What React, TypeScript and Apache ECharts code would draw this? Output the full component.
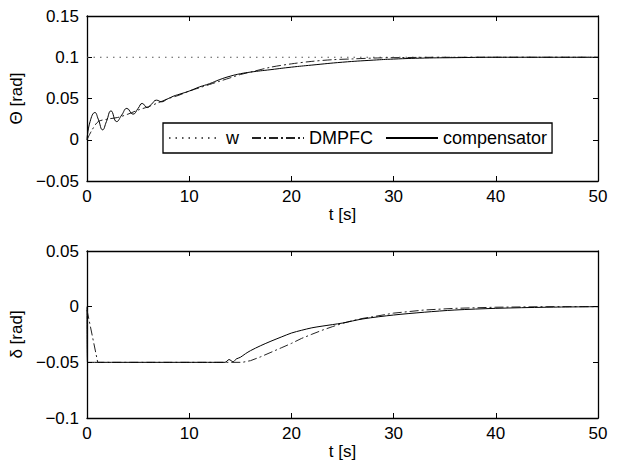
import React, { useEffect, useRef } from "react";
import * as echarts from "echarts";

// ---- Data ----
const xTicks = [0, 10, 20, 30, 40, 50];

// Top panel: Θ [rad]
const wT = [0, 50];
const wV = [0.1, 0.1];

const thDmpfcT = [0, 0.5, 1.1, 2, 3, 4, 5, 6, 7, 8, 9, 10, 11, 12, 13, 14, 15, 16, 18, 20, 22, 24, 26, 28, 30, 35, 40, 50];
const thDmpfcV = [0, 0.012, 0.022, 0.025, 0.027, 0.031, 0.036, 0.040, 0.045, 0.050, 0.054, 0.059, 0.063, 0.067, 0.071, 0.075, 0.079, 0.082, 0.088, 0.092, 0.095, 0.097, 0.098, 0.099, 0.0995, 0.1, 0.1, 0.1];

const thCompT = [0, 0.3, 0.78, 1.1, 1.53, 1.9, 2.35, 2.9, 3.4, 3.9, 4.5, 5.0, 5.4, 5.9, 6.3, 6.8, 7.3, 7.8, 8.5, 9, 10, 11, 12, 13, 14, 15, 16, 18, 20, 22, 25, 28, 30, 33, 36, 40, 45, 50];
const thCompV = [0, 0.022, 0.033, 0.025, 0.012, 0.022, 0.035, 0.022, 0.03, 0.038, 0.031, 0.038, 0.044, 0.039, 0.043, 0.048, 0.046, 0.049, 0.053, 0.055, 0.059, 0.064, 0.068, 0.073, 0.077, 0.080, 0.082, 0.085, 0.088, 0.0905, 0.094, 0.0965, 0.0978, 0.099, 0.0995, 0.1, 0.1, 0.1];

// Bottom panel: δ [rad]
const deDmpfcT = [0, 1.05, 15.2, 16, 17, 18, 19, 20, 21, 22, 23, 24, 25, 26, 27, 28, 30, 33, 36, 40, 45, 50];
const deDmpfcV = [-0.003, -0.05, -0.05, -0.0485, -0.045, -0.041, -0.037, -0.033, -0.0285, -0.0248, -0.0212, -0.018, -0.015, -0.0125, -0.0105, -0.009, -0.0058, -0.003, -0.0015, -0.0005, 0, 0];

const deCompT = [0, 0.05, 13.5, 13.9, 14.3, 14.6, 15, 15.5, 16, 17, 18, 19, 20, 21, 22, 23, 25, 27, 30, 33, 36, 40, 45, 50];
const deCompV = [0, -0.05, -0.05, -0.0475, -0.0495, -0.047, -0.0455, -0.0423, -0.0395, -0.035, -0.031, -0.0273, -0.0237, -0.0212, -0.019, -0.0175, -0.0147, -0.011, -0.0075, -0.005, -0.003, -0.0015, -0.0005, 0];

const topYTicks = [-0.05, 0, 0.05, 0.1, 0.15];
const botYTicks = [-0.1, -0.05, 0, 0.05];

const seriesNames = ["w", "DMPFC", "compensator"];

const zip = (t: number[], v: number[]) => t.map((x, i) => [x, v[i]]);
const fmt = (v: number) => {
  const r = Math.round(v * 1000) / 1000;
  return String(r).replace("-", "\u2212");
};

const FONT = "'Liberation Sans', Arial, Helvetica, sans-serif";

export default function App() {
  const ref = useRef<HTMLDivElement>(null);
  useEffect(() => {
    if (!ref.current) return;
    const chart = echarts.init(ref.current, undefined, { renderer: "svg" });

    const axisLine = { show: true, onZero: false, lineStyle: { color: "#000", width: 1.3 } };
    const tick = { show: true, inside: true, length: 5, lineStyle: { color: "#000", width: 1 } };
    const label = { color: "#000", fontSize: 17, fontFamily: FONT };

    const xMain = (gi: number) => ({
      type: "value",
      gridIndex: gi,
      min: xTicks[0],
      max: xTicks[xTicks.length - 1],
      interval: 10,
      position: "bottom",
      axisLine,
      axisTick: tick,
      axisLabel: { ...label, margin: 7 },
      splitLine: { show: false },
      name: "t [s]",
      nameLocation: "middle",
      nameGap: 21,
      nameTextStyle: { color: "#000", fontSize: 17, fontFamily: FONT },
    });
    const xTop = (gi: number) => ({
      type: "value",
      gridIndex: gi,
      min: xTicks[0],
      max: xTicks[xTicks.length - 1],
      interval: 10,
      position: "top",
      axisLine,
      axisTick: tick,
      axisLabel: { show: false },
      splitLine: { show: false },
    });
    const yMain = (gi: number, ticks: number[], name: string) => ({
      type: "value",
      gridIndex: gi,
      min: ticks[0],
      max: ticks[ticks.length - 1],
      interval: 0.05,
      position: "left",
      axisLine,
      axisTick: tick,
      axisLabel: { ...label, margin: 8, formatter: fmt },
      splitLine: { show: false },
      name,
      nameLocation: "middle",
      nameGap: 58,
      nameTextStyle: { color: "#000", fontSize: 17, fontFamily: FONT },
    });
    const yRight = (gi: number, ticks: number[]) => ({
      type: "value",
      gridIndex: gi,
      min: ticks[0],
      max: ticks[ticks.length - 1],
      interval: 0.05,
      position: "right",
      axisLine,
      axisTick: tick,
      axisLabel: { show: false },
      splitLine: { show: false },
    });

    const wStyle = { color: "#555", width: 1, type: [1.5, 5] };
    const dStyle = { color: "#222", width: 1, type: [9, 3, 2, 3] };
    const cStyle = { color: "#000", width: 1, type: "solid" };

    const line = (name: string, xi: number, yi: number, data: number[][], ls: any, smooth: any = false) => ({
      type: "line",
      name,
      xAxisIndex: xi,
      yAxisIndex: yi,
      data,
      symbol: "none",
      showSymbol: false,
      smooth,
      lineStyle: ls,
      itemStyle: { color: ls.color },
      z: 3,
    });

    chart.setOption({
      animation: false,
      backgroundColor: "#fff",
      textStyle: { fontFamily: FONT },
      grid: [
        { left: 87, top: 16, width: 511, height: 165 },
        { left: 87, top: 251, width: 511, height: 167 },
      ],
      xAxis: [xMain(0), xTop(0), xMain(1), xTop(1)],
      yAxis: [
        yMain(0, topYTicks, "\u0398 [rad]"),
        yRight(0, topYTicks),
        yMain(1, botYTicks, "\u03b4 [rad]"),
        yRight(1, botYTicks),
      ],
      legend: {
        data: seriesNames,
        left: 163,
        top: 123,
        orient: "horizontal",
        itemWidth: 52,
        itemHeight: 14,
        itemGap: 12,
        padding: [6, 5, 6, 5],
        backgroundColor: "#fff",
        borderColor: "#000",
        borderWidth: 1.3,
        borderRadius: 0,
        selectedMode: false,
        itemStyle: { opacity: 0 },
        textStyle: { color: "#000", fontSize: 18, fontFamily: FONT },
      },
      series: [
        line("w", 1, 1, zip(wT, wV), wStyle),
        line("DMPFC", 1, 1, zip(thDmpfcT, thDmpfcV), dStyle, 0.3),
        line("compensator", 1, 1, zip(thCompT, thCompV), cStyle, 0.5),
        line("DMPFC", 3, 3, zip(deDmpfcT, deDmpfcV), dStyle),
        line("compensator", 3, 3, zip(deCompT, deCompV), cStyle, 0.3),
      ].map((s, i) => ({ ...s, xAxisIndex: i < 3 ? 0 : 2, yAxisIndex: i < 3 ? 0 : 2 })),
    });
    return () => chart.dispose();
  }, []);
  return <div ref={ref} style={{ width: 617, height: 465, position: "absolute", left: 0, top: 0 }} />;
}
